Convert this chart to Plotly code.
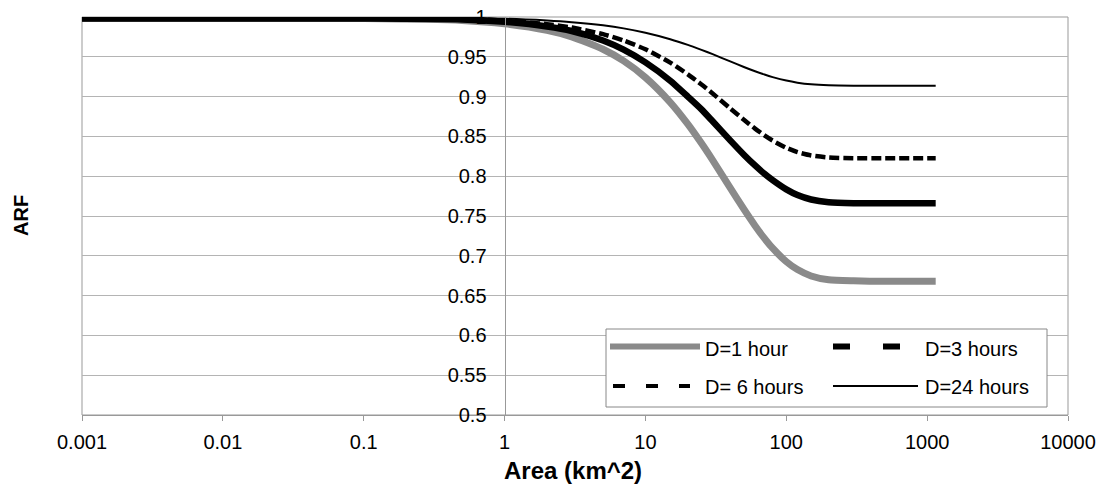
import plotly.graph_objects as go

# ---- data ----
areas = [0.001, 0.01, 0.1, 0.5, 1, 2, 3, 5, 7, 10, 15, 20, 25, 30, 40, 50, 60, 70, 80, 100,
         120, 150, 200, 300, 500, 1150]
arf_1h = [0.998, 0.998, 0.998, 0.9957, 0.9915, 0.9832, 0.9751, 0.9595, 0.9448, 0.924, 0.8928, 0.8654,
          0.8413, 0.8202, 0.7854, 0.7585, 0.7378, 0.7218, 0.7095, 0.6927, 0.6827, 0.6747, 0.6698,
          0.6685, 0.668, 0.668]
arf_3h = [0.998, 0.998, 0.998, 0.997, 0.994, 0.9881, 0.9824, 0.9705, 0.959, 0.943, 0.920, 0.900,
          0.884, 0.869, 0.845, 0.827, 0.8135, 0.803, 0.795, 0.7834, 0.7763, 0.7707, 0.7673,
          0.7661, 0.766, 0.766]
arf_6h = [0.998, 0.998, 0.998, 0.9977, 0.9954, 0.991, 0.9867, 0.9784, 0.9705, 0.9594, 0.9427, 0.928,
          0.9152, 0.9039, 0.8852, 0.8709, 0.8598, 0.8513, 0.8447, 0.8357, 0.8303, 0.8261, 0.8235,
          0.8226, 0.8225, 0.8225]
arf_24h = [0.998, 0.998, 0.998, 0.998, 0.9978, 0.9956, 0.9935, 0.9895, 0.9857, 0.9802, 0.9721, 0.965,
           0.9587, 0.9533, 0.9442, 0.9372, 0.9318, 0.9277, 0.9245, 0.9201, 0.9175, 0.9154, 0.9142,
           0.9137, 0.9137, 0.9137]
series_names = ["D=1 hour", "D=3 hours", "D= 6 hours", "D=24 hours"]
x_tick_vals = [0.001, 0.01, 0.1, 1, 10, 100, 1000, 10000]
x_tick_text = ["0.001", "0.01", "0.1", "1", "10", "100", "1000", "10000"]
y_tick_vals = [0.5, 0.55, 0.6, 0.65, 0.7, 0.75, 0.8, 0.85, 0.9, 0.95, 1.0]
y_tick_text = ["0.5", "0.55", "0.6", "0.65", "0.7", "0.75", "0.8", "0.85", "0.9", "0.95", "1"]

# page geometry: figure fills the whole 1102x494 window (body margin removed below)
W, H = 1102, 494
PL, PR, PT, PB = 82, 1068, 17, 415          # plot area in pixels
ML, MT, MR, MB = PL, PT, W - PR, H - PB
PW, PH = PR - PL, PB - PT


def px2x(px):
    return (px - PL) / PW


def py2y(py):
    return (PB - py) / PH


FONT = "Liberation Sans, Arial, sans-serif"
GRAY = "#8a8a8a"
AXC = "#999999"

styles = [
    dict(color=GRAY, width=7, dash="solid"),
    dict(color="black", width=6.5, dash="solid"),
    dict(color="black", width=4.5, dash="10px,4px"),
    dict(color="black", width=2, dash="solid"),
]

fig = go.Figure()
for name, ys, st in zip(series_names, [arf_1h, arf_3h, arf_6h, arf_24h], styles):
    fig.add_trace(go.Scatter(
        x=areas, y=ys, mode="lines", name=name, showlegend=False,
        line=dict(color=st["color"], width=st["width"], dash=st["dash"], shape="spline", smoothing=0.6),
    ))

fig.update_layout(
    width=W, height=H,
    margin=dict(l=ML, r=MR, t=MT, b=MB, pad=0, autoexpand=False),
    paper_bgcolor="white", plot_bgcolor="white",
    font=dict(family=FONT, size=20, color="black"),
    showlegend=False,
    xaxis=dict(
        type="log", range=[-3, 4], tickvals=x_tick_vals, ticktext=x_tick_text,
        showgrid=False, zeroline=False, automargin=False,
        showline=True, linecolor=AXC, linewidth=1,
        ticks="outside", ticklen=5, tickcolor=AXC,
        ticklabelstandoff=4, ticklabeloverflow="allow",
        tickfont=dict(size=20, family=FONT),
    ),
    yaxis=dict(
        range=[0.5, 1.0], tickvals=y_tick_vals, ticktext=y_tick_text,
        anchor="free", position=3 / 7, automargin=False,
        showgrid=True, gridcolor="#b4b4b4", gridwidth=1, zeroline=False,
        showline=True, linecolor=AXC, linewidth=1,
        ticks="", ticklabelstandoff=14, ticklabeloverflow="allow",
        tickfont=dict(size=20, family=FONT),
    ),
)

# axis titles
fig.add_annotation(
    text="<b>ARF</b>", xref="paper", yref="paper", x=px2x(21), y=py2y(216),
    textangle=-90, showarrow=False, font=dict(size=20, family=FONT), xanchor="center", yanchor="middle",
)
fig.add_annotation(
    text="<b>Area (km^2)</b>", xref="paper", yref="paper", x=px2x(573), y=py2y(470),
    showarrow=False, font=dict(size=24, family=FONT), xanchor="center", yanchor="middle",
)

# plot area border
fig.add_shape(type="rect", xref="paper", yref="paper", x0=0, y0=0, x1=1, y1=1,
              line=dict(color=AXC, width=1), layer="below")

# ---- custom legend box ----
fig.add_shape(type="rect", xref="paper", yref="paper",
              x0=px2x(606), x1=px2x(1047), y0=py2y(407), y1=py2y(329),
              line=dict(color="#888888", width=1), fillcolor="white", layer="above")

row1, row2 = 346.5, 386
legend_items = [
    (series_names[0], 610, 700, row1, dict(color=GRAY, width=6), 703, 349),
    (series_names[1], 833, 900, row1, dict(color="black", width=6, dash="17px,33px"), 923, 349),
    (series_names[2], 613, 690, row2, dict(color="black", width=4, dash="12px,21px"), 703, 387),
    (series_names[3], 833, 918, row2, dict(color="black", width=2), 923, 387),
]
for name, lx0, lx1, ly, lst, tx, ty in legend_items:
    fig.add_shape(type="line", xref="paper", yref="paper",
                  x0=px2x(lx0), x1=px2x(lx1), y0=py2y(ly), y1=py2y(ly), line=lst, layer="above")
    fig.add_annotation(text=name, xref="paper", yref="paper", x=px2x(tx), y=py2y(ty),
                       xanchor="left", yanchor="middle", showarrow=False,
                       font=dict(size=20, family=FONT, color="black"))

fig.write_html(
    "out.html",
    config={"displayModeBar": False},
    post_script="document.body.style.margin='0px';document.body.style.overflow='hidden';",
)
